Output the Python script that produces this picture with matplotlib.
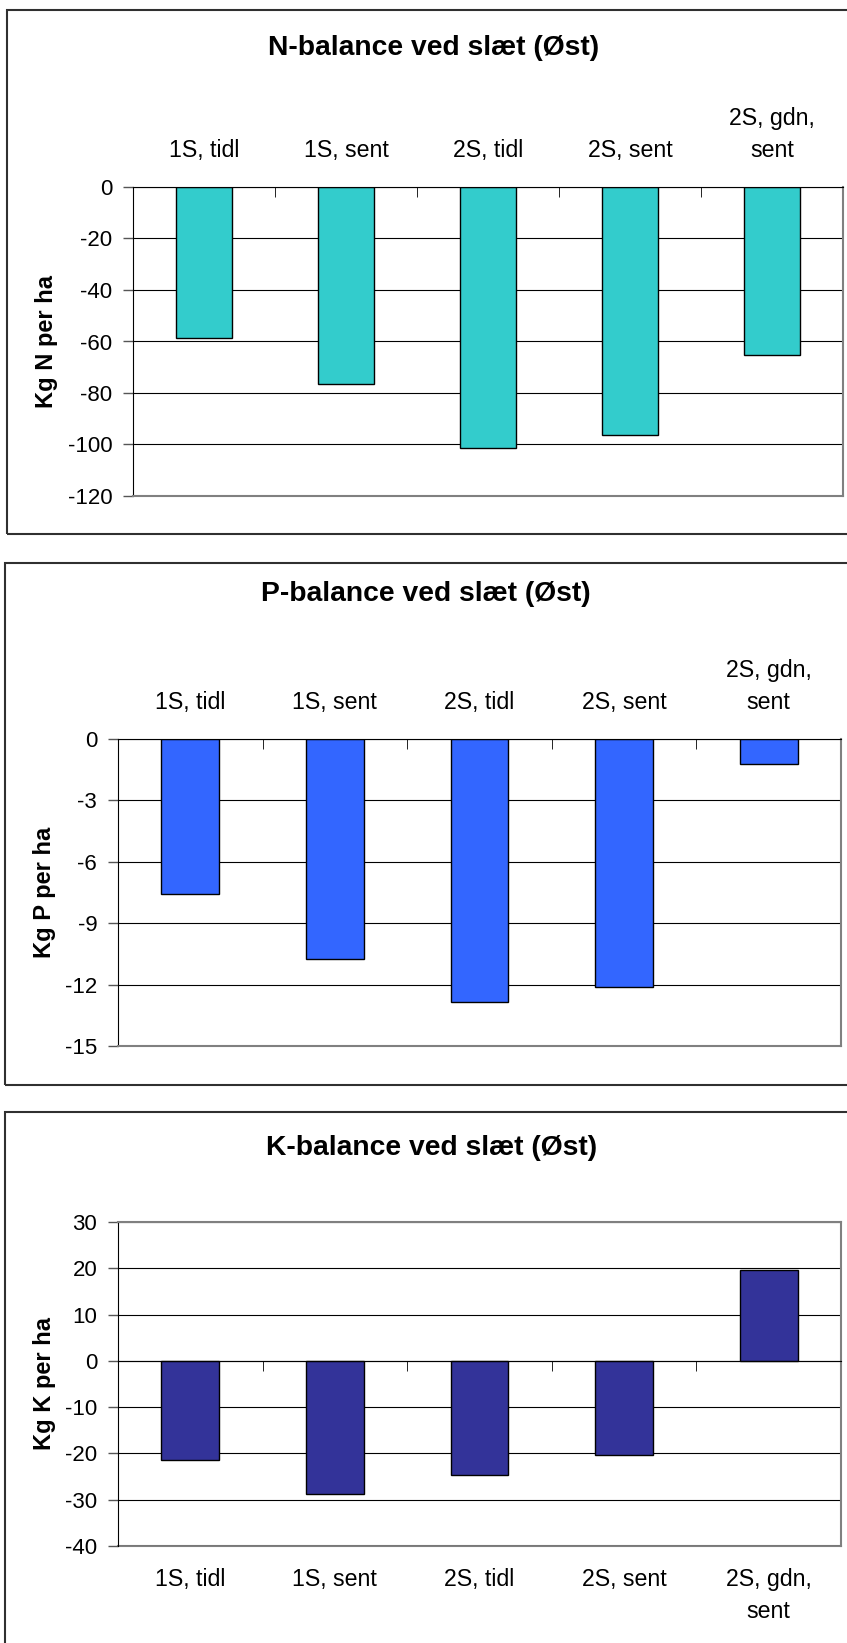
import numpy as np
import matplotlib
matplotlib.use("Agg")
import matplotlib.pyplot as plt
from matplotlib.patches import Rectangle

plt.rcParams["font.family"] = ["Liberation Sans", "DejaVu Sans"]

W, H = 847, 1643

categories = ["1S, tidl", "1S, sent", "2S, tidl", "2S, sent", "2S, gdn,\nsent"]

n_balance = [-58.6, -76.4, -101.2, -96.4, -65.4]
p_balance = [-7.55, -10.74, -12.84, -12.14, -1.2]
k_balance = [-21.5, -28.7, -24.6, -20.3, 19.7]

n_ticks = [0, -20, -40, -60, -80, -100, -120]
p_ticks = [0, -3, -6, -9, -12, -15]
k_ticks = [30, 20, 10, 0, -10, -20, -30, -40]


def fx(x):
    return x / W


def fy(y):
    return 1 - y / H


def add_axes_px(fig, left, right, top, bottom):
    return fig.add_axes([fx(left), fy(bottom), (right - left) / W, (bottom - top) / H])


def frame(fig, left, top, right, bottom):
    fig.patches.append(Rectangle((fx(left), fy(bottom)), fx(right) - fx(left),
                                 fy(top) - fy(bottom), transform=fig.transFigure,
                                 fill=False, edgecolor="#303030", lw=1.5))


def draw_panel(ax, values, ticks, color, labels_top):
    x = np.arange(len(values))
    ax.bar(x, values, width=0.4, color=color, edgecolor="black", lw=1.0, zorder=2)
    ax.set_xlim(-0.5, len(values) - 0.5)
    ax.set_ylim(min(ticks), max(ticks))
    ax.set_yticks(ticks)
    ax.set_yticklabels([str(t) for t in ticks])
    ax.tick_params(axis="y", direction="out", length=7, width=1, color="#555555",
                   labelsize=16, pad=8)
    ax.yaxis.grid(True, color="black", lw=0.8)
    ax.set_axisbelow(True)
    ax.spines["left"].set_color("black")
    ax.spines["right"].set_color("#808080")
    ax.spines["right"].set_linewidth(1.5)
    ax.set_xticks(x)
    ax.set_xticks(np.arange(-0.5, len(values)), minor=True)

    if labels_top:
        ax.spines["top"].set_color("black")
        ax.spines["bottom"].set_color("#808080")
        ax.spines["bottom"].set_linewidth(1.5)
        ax.set_xticklabels(categories, linespacing=1.5)
        ax.tick_params(axis="x", which="major", length=0, labeltop=True,
                       labelbottom=False, labelsize=16.7, pad=18)
        ax.tick_params(axis="x", which="minor", top=True, bottom=False,
                       direction="in", length=7, color="black")
    else:
        ax.spines["top"].set_color("#808080")
        ax.spines["top"].set_linewidth(1.5)
        ax.spines["bottom"].set_position(("data", 0))
        ax.spines["bottom"].set_color("black")
        ax.tick_params(axis="x", which="major", length=0, labelbottom=False)
        ax.tick_params(axis="x", which="minor", bottom=True, direction="out",
                       length=7, color="black")
        sec = ax.secondary_xaxis(0)
        sec.set_xticks(x)
        sec.set_xticklabels(categories, linespacing=1.5)
        sec.tick_params(axis="x", length=0, labelsize=16.7, pad=16)
        sec.spines["bottom"].set_color("#808080")
        sec.spines["bottom"].set_linewidth(1.5)


fig = plt.figure(figsize=(W / 100, H / 100), dpi=100)

# frames around each chart
frame(fig, 7, 10, 860, 534)
frame(fig, 5, 563, 860, 1085)
frame(fig, 5, 1112, 860, 1660)

ax1 = add_axes_px(fig, 133, 843, 187, 496)
draw_panel(ax1, n_balance, n_ticks, "#33CCCC", True)
ax2 = add_axes_px(fig, 118, 841, 739, 1046)
draw_panel(ax2, p_balance, p_ticks, "#3366FF", True)
ax3 = add_axes_px(fig, 118, 841, 1222, 1546)
draw_panel(ax3, k_balance, k_ticks, "#333399", False)

titles = ["N-balance ved slæt (Øst)", "P-balance ved slæt (Øst)", "K-balance ved slæt (Øst)"]
title_pos = [(434, 48), (426, 594), (432, 1148)]
for t, (tx, ty) in zip(titles, title_pos):
    fig.text(fx(tx), fy(ty), t, ha="center", va="center", fontsize=20.3, fontweight="bold")

ylabels = ["Kg N per ha", "Kg P per ha", "Kg K per ha"]
ylabel_pos = [(46, 341), (44, 892), (44, 1384)]
for t, (tx, ty) in zip(ylabels, ylabel_pos):
    fig.text(fx(tx), fy(ty), t, ha="center", va="center", rotation=90,
             fontsize=17, fontweight="bold")

fig.savefig("out.png", dpi=100)
